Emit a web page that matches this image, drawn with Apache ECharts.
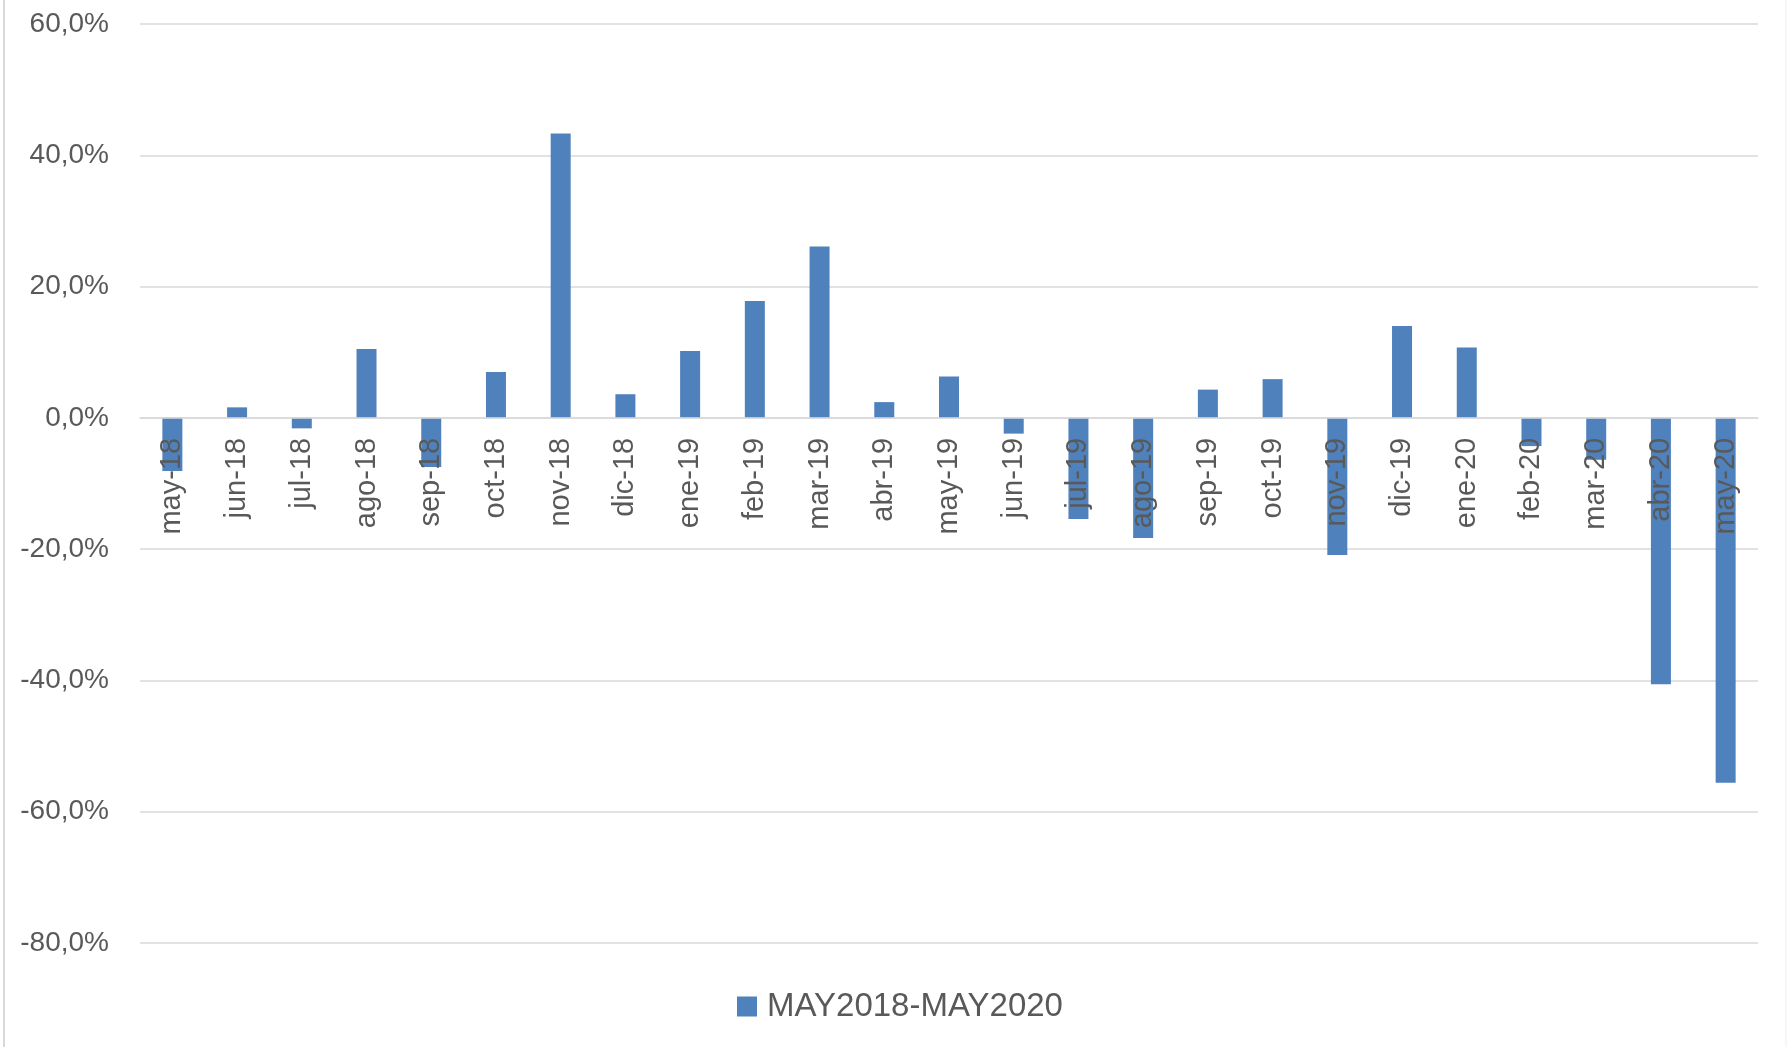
<!DOCTYPE html>
<html>
<head>
<meta charset="utf-8">
<script src="https://cdn.jsdelivr.net/npm/echarts@6/dist/echarts.min.js"></script>
<style>
html,body{margin:0;padding:0;background:#fff;}
#chart{width:1787px;height:1047px;}
</style>
</head>
<body>
<div id="chart"></div>
<script>
const categories = ["may-18","jun-18","jul-18","ago-18","sep-18","oct-18","nov-18","dic-18","ene-19","feb-19","mar-19","abr-19","may-19","jun-19","jul-19","ago-19","sep-19","oct-19","nov-19","dic-19","ene-20","feb-20","mar-20","abr-20","may-20"];
const seriesName = "MAY2018-MAY2020";
const values = [-8.1, 1.6, -1.6, 10.5, -7.5, 7.0, 43.3, 3.6, 10.2, 17.8, 26.1, 2.4, 6.3, -2.4, -15.4, -18.3, 4.3, 5.9, -20.9, 14.0, 10.7, -4.3, -6.4, -40.6, -55.6];
const yTicks = {min: -80, max: 60, interval: 20};

const W = 1787, H = 1047;
const gridTop = 24, gridBottom = 104;
const gridH = H - gridTop - gridBottom;
// place category axis at the zero value of the value axis
const zeroOffset = -gridH * (0 - yTicks.min) / (yTicks.max - yTicks.min);

const chart = echarts.init(document.getElementById('chart'));
const font = "'Liberation Sans', Arial, sans-serif";
chart.setOption({
  animation: false,
  backgroundColor: '#ffffff',
  graphic: [
    {type: 'line', shape: {x1: 4, y1: 0, x2: 4, y2: H}, style: {stroke: '#D9D9D9', lineWidth: 2}},
    {type: 'line', shape: {x1: 1786, y1: 0, x2: 1786, y2: H}, style: {stroke: '#EEEEEE', lineWidth: 1}}
  ],
  grid: {left: 140, right: 29, top: gridTop, bottom: gridBottom, containLabel: false},
  legend: {
    data: [seriesName],
    left: 737,
    top: 990,
    padding: 0,
    itemWidth: 20,
    itemHeight: 20,
    icon: 'rect',
    textStyle: {fontFamily: font, fontSize: 33, color: '#595959', padding: [0, 0, 0, 5]}
  },
  xAxis: {
    type: 'category',
    data: categories,
    position: 'bottom',
    offset: zeroOffset,
    z: 10,
    axisLine: {show: true, onZero: false, lineStyle: {color: '#D9D9D9', width: 1.5}},
    axisTick: {show: false},
    axisLabel: {rotate: 90, margin: 20, fontFamily: font, fontSize: 29, color: '#595959', interval: 0}
  },
  yAxis: {
    type: 'value',
    min: yTicks.min,
    max: yTicks.max,
    interval: yTicks.interval,
    axisLine: {show: false},
    axisTick: {show: false},
    splitLine: {lineStyle: {color: '#D9D9D9', width: 1.5}},
    axisLabel: {
      margin: 31,
      fontFamily: font,
      fontSize: 28,
      color: '#595959',
      formatter: v => v.toFixed(1).replace('.', ',') + '%'
    }
  },
  series: [{
    name: seriesName,
    type: 'bar',
    data: values,
    barWidth: 20,
    itemStyle: {color: '#4F81BD'}
  }]
});
</script>
</body>
</html>
